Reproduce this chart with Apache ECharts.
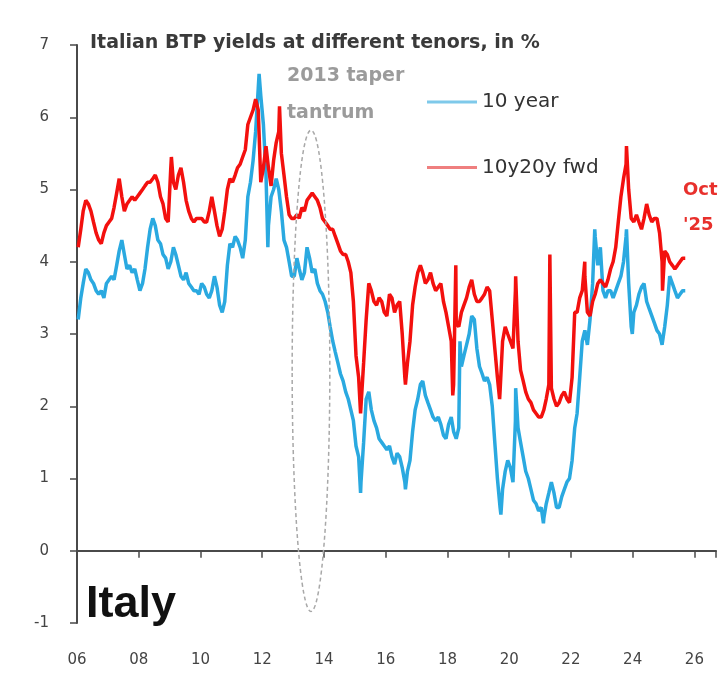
<!DOCTYPE html>
<html>
<head>
<meta charset="utf-8">
<title>Italian BTP yields</title>
<script src="https://cdn.jsdelivr.net/npm/echarts@6/dist/echarts.min.js"></script>
<style>
  html, body { margin: 0; padding: 0; background: #ffffff; }
  #chart { width: 719px; height: 681px; }
</style>
</head>
<body>
<div id="chart"></div>
<script>
// Monthly readings (mid-month), January 2006 onwards, in %
const startYear = 2006;

const tenYear = [
  3.2, 3.5, 3.7, 3.9, 3.85, 3.75, 3.7, 3.6, 3.55, 3.6, 3.5, 3.7,        // 2006
  3.75, 3.8, 3.75, 3.95, 4.15, 4.3, 4.1, 3.9, 3.95, 3.85, 3.9, 3.75,    // 2007
  3.6, 3.7, 3.9, 4.2, 4.45, 4.6, 4.5, 4.3, 4.25, 4.1, 4.05, 3.9,        // 2008
  4.0, 4.2, 4.1, 3.95, 3.8, 3.75, 3.85, 3.7, 3.65, 3.6, 3.6, 3.55,      // 2009
  3.7, 3.65, 3.55, 3.5, 3.6, 3.8, 3.65, 3.4, 3.3, 3.45, 3.95, 4.25,     // 2010
  4.2, 4.35, 4.3, 4.2, 4.05, 4.3, 4.9, 5.1, 5.4, 5.8, 6.4, 6.3,         // 2011
  5.9, 5.2, 4.5, 4.9, 5.0, 5.15, 5.0, 4.7, 4.3, 4.2, 4.0, 3.8,          // 2012
  3.8, 4.05, 3.9, 3.75, 3.85, 4.2, 4.05, 3.85, 3.9, 3.7, 3.6, 3.55,     // 2013
  3.45, 3.3, 3.1, 2.9, 2.75, 2.6, 2.45, 2.35, 2.2, 2.1, 1.95, 1.8,      // 2014
  1.45, 1.3, 0.95, 1.5, 2.1, 2.2, 1.95, 1.8, 1.7, 1.55, 1.5, 1.45,      // 2015
  1.4, 1.45, 1.3, 1.2, 1.35, 1.3, 1.15, 0.95, 1.1, 1.25, 1.65, 1.95,    // 2016
  2.1, 2.3, 2.35, 2.15, 2.05, 1.95, 1.85, 1.8, 1.85, 1.75, 1.6, 1.55,   // 2017
  1.75, 1.85, 1.65, 1.55, 1.7, 2.55, 2.7, 2.85, 3.0, 3.25, 3.2, 2.8,    // 2018
  2.55, 2.45, 2.35, 2.4, 2.3, 2.0, 1.5, 1.0, 0.6, 0.85, 1.1, 1.25,      // 2019
  1.15, 0.95, 1.8, 1.7, 1.5, 1.3, 1.1, 1.0, 0.85, 0.7, 0.65, 0.55,      // 2020
  0.6, 0.45, 0.65, 0.8, 0.95, 0.8, 0.6, 0.6, 0.75, 0.85, 0.95, 1.0,     // 2021
  1.25, 1.7, 1.9, 2.4, 2.9, 3.05, 2.85, 3.2, 3.7, 4.35, 3.95, 4.2,      // 2022
  3.6, 3.5, 3.6, 3.6, 3.5, 3.6, 3.7, 3.8, 4.0, 4.35, 3.7, 3.1,          // 2023
  3.3, 3.4, 3.55, 3.65, 3.7, 3.45, 3.35, 3.25, 3.15, 3.05, 3.0, 2.85,   // 2024
  3.1, 3.4, 3.8, 3.7, 3.6, 3.5, 3.55, 3.6, 3.6                          // 2025
];

const fwd10y20y = [
  4.2, 4.45, 4.7, 4.85, 4.8, 4.7, 4.55, 4.4, 4.3, 4.25, 4.4, 4.5,       // 2006
  4.55, 4.6, 4.75, 4.95, 5.15, 4.9, 4.7, 4.8, 4.85, 4.9, 4.85, 4.9,     // 2007
  4.95, 5.0, 5.05, 5.1, 5.1, 5.15, 5.2, 5.1, 4.9, 4.8, 4.6, 4.55,       // 2008
  5.3, 5.1, 5.0, 5.2, 5.3, 5.1, 4.85, 4.7, 4.6, 4.55, 4.6, 4.6,         // 2009
  4.6, 4.55, 4.55, 4.7, 4.9, 4.7, 4.5, 4.35, 4.45, 4.7, 5.0, 5.15,      // 2010
  5.1, 5.2, 5.3, 5.35, 5.45, 5.55, 5.9, 6.0, 6.1, 6.25, 6.1, 5.1,       // 2011
  5.3, 5.6, 5.3, 5.05, 5.4, 5.65, 5.8, 5.5, 5.2, 4.9, 4.65, 4.6,        // 2012
  4.6, 4.65, 4.6, 4.75, 4.7, 4.85, 4.9, 4.95, 4.9, 4.85, 4.75, 4.6,     // 2013
  4.55, 4.5, 4.45, 4.45, 4.35, 4.25, 4.15, 4.1, 4.1, 4.0, 3.85, 3.45,   // 2014
  2.7, 2.4, 2.0, 2.6, 3.2, 3.7, 3.6, 3.45, 3.4, 3.5, 3.45, 3.3,         // 2015
  3.25, 3.55, 3.5, 3.3, 3.4, 3.45, 3.0, 2.4, 2.6, 2.9, 3.4, 3.65,       // 2016
  3.85, 3.95, 3.85, 3.7, 3.75, 3.85, 3.7, 3.6, 3.65, 3.7, 3.45, 3.3,    // 2017
  3.1, 2.9, 2.3, 3.15, 3.1, 3.3, 3.4, 3.5, 3.65, 3.75, 3.55, 3.45,      // 2018
  3.45, 3.5, 3.55, 3.65, 3.6, 3.2, 2.8, 2.4, 2.2, 2.9, 3.1, 3.0,        // 2019
  2.9, 2.8, 3.6, 2.9, 2.5, 2.35, 2.2, 2.1, 2.05, 1.95, 1.9, 1.85,       // 2020
  1.85, 1.95, 2.1, 2.3, 2.25, 2.1, 2.0, 2.05, 2.15, 2.2, 2.1, 2.05,     // 2021
  2.4, 3.3, 3.3, 3.5, 3.6, 3.8, 3.3, 3.25, 3.45, 3.55, 3.7, 3.75,       // 2022
  3.7, 3.65, 3.75, 3.9, 4.0, 4.2, 4.55, 4.9, 5.15, 5.35, 5.0, 4.6,      // 2023
  4.55, 4.65, 4.55, 4.45, 4.6, 4.8, 4.65, 4.55, 4.6, 4.6, 4.4, 4.0,     // 2024
  4.15, 4.1, 4.0, 3.95, 3.9, 3.95, 4.0, 4.05, 4.05                      // 2025
];

// Single-day extremes between the monthly readings
const tenYearSpikes = [
  ['2011-11-25', 6.6], ['2012-03-08', 4.2], ['2015-03-10', 0.8],
  ['2016-08-22', 0.85], ['2018-05-29', 2.9], ['2019-09-25', 0.5],
  ['2020-03-18', 2.25], ['2021-02-10', 0.38], ['2022-10-10', 4.45],
  ['2023-10-20', 4.45], ['2023-12-28', 3.0]
];

const fwdSpikes = [
  ['2009-01-22', 5.45], ['2012-07-24', 6.15], ['2015-03-10', 1.9],
  ['2016-08-22', 2.3], ['2018-03-05', 2.15], ['2018-04-10', 3.95],
  ['2019-09-10', 2.1], ['2020-03-18', 3.8], ['2021-04-27', 4.1],
  ['2022-06-14', 4.0], ['2023-10-20', 5.6], ['2024-12-20', 3.6]
];

const seriesNames = ['10 year', '10y20y fwd'];
const xTickYears = [2006, 2008, 2010, 2012, 2014, 2016, 2018, 2020, 2022, 2024, 2026];
const yTickValues = [-1, 0, 1, 2, 3, 4, 5, 6, 7];

// Taper tantrum outline, in axis units
const taperCentre = [2013.58, 2.49];
const taperRadius = [0.61, 3.33];

function toYearFrac(dateStr) {
  const [y, m, d] = dateStr.split('-').map(Number);
  const t = Date.UTC(y, m - 1, d);
  const s = Date.UTC(y, 0, 1);
  const e = Date.UTC(y + 1, 0, 1);
  return y + (t - s) / (e - s);
}

function buildPoints(monthly, spikes) {
  const pts = monthly.map((v, i) => {
    const y = startYear + Math.floor(i / 12);
    const m = (i % 12) + 1;
    return [toYearFrac(y + '-' + m + '-15'), v];
  });
  spikes.forEach(([d, v]) => pts.push([toYearFrac(d), v]));
  pts.sort((a, b) => a[0] - b[0]);
  return pts;
}

const BLUE = '#2aa9e0';
const RED = '#f3100e';
const AXIS = '#4a4a4a';
const FONT = 'DejaVu Sans';

const chart = echarts.init(document.getElementById('chart'), null, { renderer: 'canvas' });

const xMin = xTickYears[0];
const xMax = 2026.7;

chart.setOption({
  animation: false,
  backgroundColor: '#ffffff',
  grid: { left: 77, right: 0, top: 45, bottom: 58 },
  xAxis: [
    {
      type: 'value', min: xMin, max: xMax, interval: 2,
      axisLine: { show: true, onZero: true, lineStyle: { color: AXIS, width: 2 } },
      axisTick: { show: true, length: 7, lineStyle: { color: AXIS, width: 1.5 } },
      axisLabel: { show: false },
      splitLine: { show: false }
    },
    {
      type: 'value', min: xMin, max: xMax, interval: 2, position: 'bottom',
      axisLine: { show: false, onZero: false },
      axisTick: { show: false },
      axisLabel: {
        margin: 30, color: '#444', fontSize: 15, fontFamily: FONT,
        formatter: v => xTickYears.includes(v) ? String(v).slice(2) : ''
      },
      splitLine: { show: false }
    }
  ],
  yAxis: {
    type: 'value', min: yTickValues[0], max: yTickValues[yTickValues.length - 1], interval: 1,
    axisLine: { show: true, onZero: false, lineStyle: { color: AXIS, width: 2 } },
    axisTick: { show: true, length: 7, lineStyle: { color: AXIS, width: 1.5 } },
    axisLabel: { margin: 28, color: '#444', fontSize: 15, fontFamily: FONT },
    splitLine: { show: false }
  },
  legend: {
    orient: 'vertical', left: 427, top: 92, itemGap: 45.5, padding: 0,
    itemWidth: 50, itemHeight: 3, icon: 'rect',
    textStyle: { color: '#333', fontSize: 20, fontFamily: FONT },
    data: [
      { name: seriesNames[0], itemStyle: { color: '#7ec9ea' } },
      { name: seriesNames[1], itemStyle: { color: '#ef7f7f' } }
    ]
  },
  series: [
    {
      name: seriesNames[0], type: 'line', xAxisIndex: 0, yAxisIndex: 0,
      data: buildPoints(tenYear, tenYearSpikes),
      showSymbol: false, symbol: 'none',
      lineStyle: { color: BLUE, width: 3.5 }, itemStyle: { color: BLUE },
      silent: true, z: 2
    },
    {
      name: seriesNames[1], type: 'line', xAxisIndex: 0, yAxisIndex: 0,
      data: buildPoints(fwd10y20y, fwdSpikes),
      showSymbol: false, symbol: 'none',
      lineStyle: { color: RED, width: 3.5 }, itemStyle: { color: RED },
      silent: true, z: 3
    }
  ]
});

// Annotations positioned through the axes
const c = chart.convertToPixel({ xAxisIndex: 0, yAxisIndex: 0 }, taperCentre);
const edge = chart.convertToPixel({ xAxisIndex: 0, yAxisIndex: 0 },
  [taperCentre[0] + taperRadius[0], taperCentre[1] + taperRadius[1]]);

chart.setOption({
  graphic: [
    {
      type: 'ellipse', z: 10,
      shape: { cx: c[0], cy: c[1], rx: Math.abs(edge[0] - c[0]), ry: Math.abs(c[1] - edge[1]) },
      style: { fill: 'none', stroke: '#a8a8a8', lineWidth: 1.5, lineDash: [4, 3] }
    },
    {
      type: 'text', left: 90, top: 34, z: 10,
      style: { text: 'Italian BTP yields at different tenors, in %', fill: '#3a3a3a',
               font: 'bold 19px "DejaVu Sans"' }
    },
    {
      type: 'text', left: 287, top: 67, z: 10,
      style: { text: '2013 taper', fill: '#9b9b9b', font: 'bold 19px "DejaVu Sans"' }
    },
    {
      type: 'text', left: 287, top: 104, z: 10,
      style: { text: 'tantrum', fill: '#9b9b9b', font: 'bold 19px "DejaVu Sans"' }
    },
    {
      type: 'text', left: 683, top: 181, z: 10,
      style: { text: 'Oct', fill: '#e8302c', font: 'bold 18px "DejaVu Sans"' }
    },
    {
      type: 'text', left: 683, top: 216, z: 10,
      style: { text: "'25", fill: '#e8302c', font: 'bold 18px "DejaVu Sans"' }
    },
    {
      type: 'text', left: 86, top: 582, z: 10,
      style: { text: 'Italy', fill: '#111', font: 'bold 45px "Liberation Sans"' }
    }
  ]
});
</script>
</body>
</html>
